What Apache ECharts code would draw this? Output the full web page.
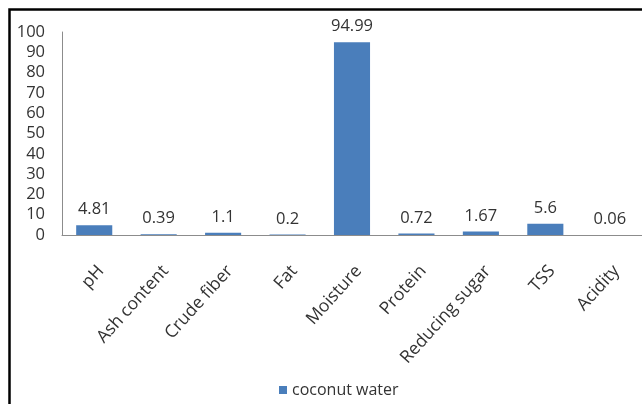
<!DOCTYPE html>
<html>
<head>
<meta charset="utf-8">
<script src="https://cdn.jsdelivr.net/npm/echarts@6/dist/echarts.min.js"></script>
<style>
html,body{margin:0;padding:0;background:#fff;}
#chart{width:642px;height:404px;}
</style>
</head>
<body>
<div id="chart"></div>
<script>
const categories = ["pH", "Ash content", "Crude fiber", "Fat", "Moisture", "Protein", "Reducing sugar", "TSS", "Acidity"];
const coconutWater = [4.81, 0.39, 1.1, 0.2, 94.99, 0.72, 1.67, 5.6, 0.06];
const seriesName = "coconut water";

const chart = echarts.init(document.getElementById('chart'), null, {renderer: 'canvas'});
const font = '"Open Sans", sans-serif';
chart.setOption({
  backgroundColor: '#ffffff',
  animation: false,
  textStyle: {fontFamily: font},
  graphic: [{
    type: 'rect',
    shape: {x: 9.5, y: 9.5, width: 660, height: 420},
    style: {fill: 'none', stroke: '#000', lineWidth: 2.5},
    z: 100
  }],
  legend: {
    data: [seriesName],
    left: 274,
    top: 377,
    itemWidth: 8,
    itemHeight: 8,
    itemGap: 6,
    icon: 'rect',
    textStyle: {fontFamily: font, fontSize: 16, color: '#333'}
  },
  grid: {left: 62, top: 32, right: -10, bottom: 169, containLabel: false},
  xAxis: {
    type: 'category',
    data: categories,
    axisLine: {lineStyle: {color: '#8c8c8c', width: 1}},
    axisTick: {show: false},
    axisLabel: {rotate: 48, margin: 27, verticalAlign: 'top', fontFamily: font, fontSize: 17.5, color: '#333', interval: 0}
  },
  yAxis: {
    type: 'value',
    min: 0, max: 100, interval: 10,
    axisLine: {show: true, lineStyle: {color: '#8c8c8c', width: 1}},
    axisTick: {show: false},
    splitLine: {show: false},
    axisLabel: {margin: 17, fontFamily: font, fontSize: 16.5, color: '#333'}
  },
  series: [{
    name: seriesName,
    type: 'bar',
    data: coconutWater,
    barWidth: '56%',
    itemStyle: {color: '#4a7ebb'},
    label: {show: true, position: 'top', distance: 7, fontFamily: font, fontSize: 16.5, color: '#333'}
  }]
});
</script>
</body>
</html>
